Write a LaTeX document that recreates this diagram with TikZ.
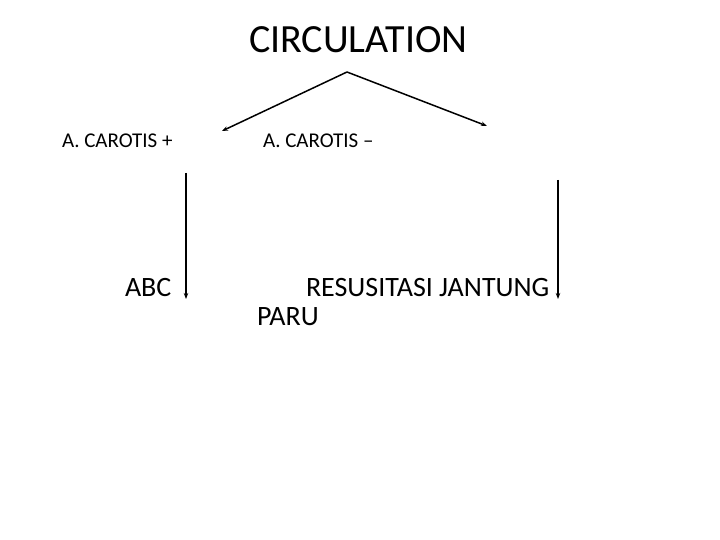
\documentclass[tikz,border=0pt]{standalone}
\usepackage{fontspec}
\setmainfont{Carlito}
\usetikzlibrary{arrows.meta}
\begin{document}
\begin{tikzpicture}[x=1pt,y=-1pt,
  lbl/.style={anchor=base west,inner sep=0pt,outer sep=0pt},
  arr/.style={line width=1.5pt,-{Stealth[length=6pt,width=4.5pt]}}]
\useasboundingbox[fill=white] (0,0) rectangle (720,540);
\node[lbl,font=\fontsize{40}{48}\selectfont] (title) at (249,53) {CIRCULATION};
\node[lbl,font=\fontsize{21}{25}\selectfont] (cp) at (62,148) {A. CAROTIS +};
\node[lbl,font=\fontsize{21}{25}\selectfont] (cm) at (263,148) {A. CAROTIS –};
\node[lbl,font=\fontsize{28}{33}\selectfont] (abc) at (125,296) {ABC};
\node[lbl,font=\fontsize{28}{33}\selectfont] (rj) at (306,296) {RESUSITASI JANTUNG};
\node[lbl,font=\fontsize{28}{33}\selectfont] (paru) at (257,325) {PARU};
\coordinate (apex) at (347,72);
\coordinate (lt) at (222,131);
\coordinate (rt) at (487,126);
\coordinate (l1) at (186,173);
\coordinate (l2) at (186,299);
\coordinate (r1) at (558,180);
\coordinate (r2) at (558,299);
\draw[arr] (apex) -- (lt);
\draw[arr] (apex) -- (rt);
\draw[arr] (l1) -- (l2);
\draw[arr] (r1) -- (r2);
\end{tikzpicture}
\end{document}
